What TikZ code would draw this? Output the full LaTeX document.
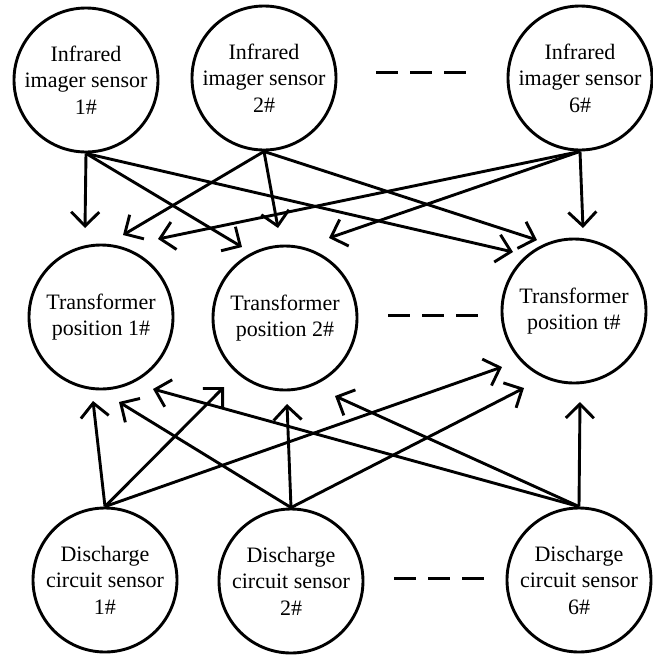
\documentclass[tikz,border=0pt]{standalone}
\usepackage{fontspec}
\setmainfont{Liberation Serif}
\usetikzlibrary{arrows.meta}
\tikzset{
  unit/.style={circle, draw, line width=2.9pt, minimum size=144pt, inner sep=0pt,
    align=center, font=\fontsize{22}{26.5}\selectfont},
  arr/.style={line width=2.9pt, -{Straight Barb[length=14pt, width=28pt]}},
  gap/.style={line width=3pt, dash pattern=on 22pt off 12pt}
}
\begin{document}
\begin{tikzpicture}[x=1pt, y=-1pt]
\useasboundingbox (0,0) rectangle (653,657);

% sensor and position nodes
\node[unit] (IR1) at (86,80)  {Infrared\\imager sensor\\1\#};
\node[unit] (IR2) at (264,78) {Infrared\\imager sensor\\2\#};
\node[unit] (IR6) at (580,78) {Infrared\\imager sensor\\6\#};

\node[unit] (T1) at (101,317) {Transformer\\position 1\#};
\node[unit] (T2) at (285,318) {Transformer\\position 2\#};
\node[unit] (Tt) at (574,311) {Transformer\\position t\#};

\node[unit] (D1) at (105,580) {Discharge\\circuit sensor\\1\#};
\node[unit] (D2) at (291,581) {Discharge\\circuit sensor\\2\#};
\node[unit] (D6) at (579,580) {Discharge\\circuit sensor\\6\#};

% arrow heads stop short of the position circles
\coordinate (a11) at (85,228);
\coordinate (a12) at (242,247);
\coordinate (a1t) at (513,252);
\coordinate (a21) at (123,235);
\coordinate (a22) at (278,228);
\coordinate (a2t) at (537,240);
\coordinate (a61) at (158,239);
\coordinate (a62) at (329,238);
\coordinate (a6t) at (583,228);

\coordinate (b11) at (93,401);
\coordinate (b12) at (224,387);
\coordinate (b1t) at (502,367);
\coordinate (b21) at (119,402);
\coordinate (b22) at (287,404);
\coordinate (b2t) at (524,388);
\coordinate (b61) at (153,389);
\coordinate (b62) at (335,396);
\coordinate (b6t) at (580,402);

% infrared sensors to positions
\draw[arr] (IR1.south) -- (a11);
\draw[arr] (IR1.south) -- (a12);
\draw[arr] (IR1.south) -- (a1t);
\draw[arr] (IR2.south) -- (a21);
\draw[arr] (IR2.south) -- (a22);
\draw[arr] (IR2.south) -- (a2t);
\draw[arr] (IR6.south) -- (a61);
\draw[arr] (IR6.south) -- (a62);
\draw[arr] (IR6.south) -- (a6t);

% discharge sensors to positions
\draw[arr] (D1.north) -- (b11);
\draw[arr] (D1.north) -- (b12);
\draw[arr] (D1.north) -- (b1t);
\draw[arr] (D2.north) -- (b21);
\draw[arr] (D2.north) -- (b22);
\draw[arr] (D2.north) -- (b2t);
\draw[arr] (D6.north) -- (b61);
\draw[arr] (D6.north) -- (b62);
\draw[arr] (D6.north) -- (b6t);

% ellipsis dashes between columns
\draw[gap] (376,72) -- (466,72);
\draw[gap] (388,315) -- (478,315);
\draw[gap] (394,578) -- (485,578);
\end{tikzpicture}
\end{document}
